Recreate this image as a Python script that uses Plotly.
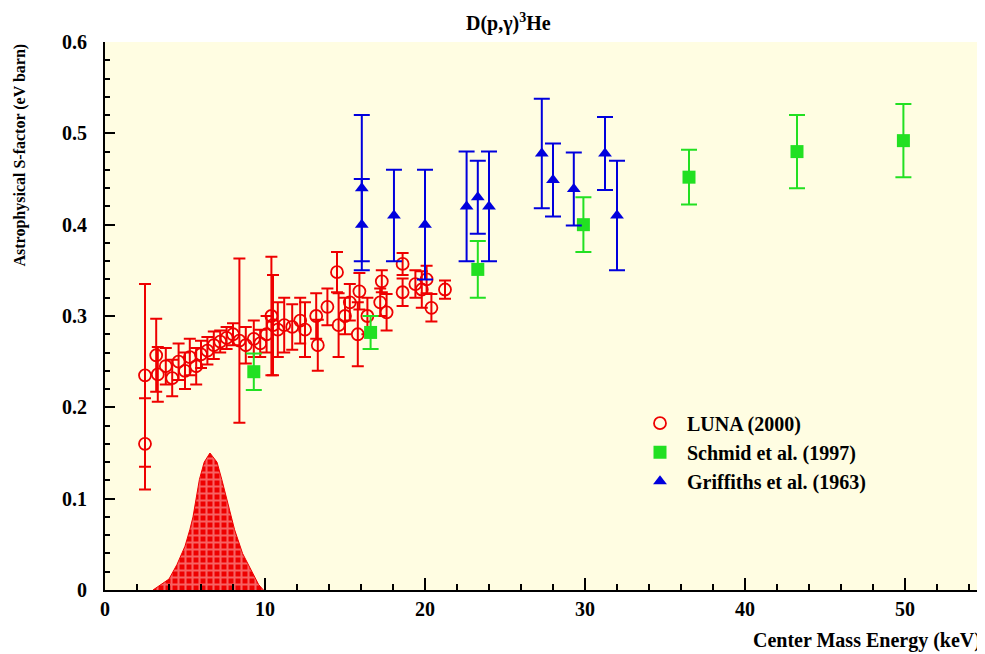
import plotly.graph_objects as go

# LUNA (2000)
luna_x = [2.5, 2.5, 3.2, 3.3, 3.8, 4.2, 4.6, 5.0, 5.3, 5.7, 6.0, 6.4, 6.8, 7.2, 7.6, 8.0,
          8.4, 8.8, 9.3, 9.7, 10.1, 10.4, 10.5, 10.8, 11.2, 11.7, 12.2, 12.5, 13.2, 13.3,
          13.9, 14.5, 14.6, 15.0, 15.3, 15.9, 15.8, 16.4, 17.3, 17.2, 17.6, 18.6, 18.6,
          19.4, 19.8, 20.1, 20.4, 21.25]
luna_y = [0.235, 0.16, 0.257, 0.236, 0.245, 0.232, 0.25, 0.24, 0.255, 0.245, 0.258, 0.262,
          0.268, 0.272, 0.276, 0.28, 0.273, 0.268, 0.275, 0.27, 0.28, 0.30, 0.29, 0.285,
          0.29, 0.288, 0.295, 0.285, 0.30, 0.268, 0.31, 0.348, 0.29, 0.30, 0.315, 0.327,
          0.28, 0.30, 0.338, 0.315, 0.304, 0.357, 0.326, 0.335, 0.329, 0.34, 0.309, 0.329]
luna_err = [0.10, 0.05, 0.04, 0.03, 0.02, 0.02, 0.02, 0.02, 0.02, 0.02, 0.015, 0.015,
            0.015, 0.012, 0.012, 0.012, 0.09, 0.02, 0.02, 0.015, 0.02, 0.065, 0.055, 0.03,
            0.03, 0.025, 0.025, 0.03, 0.025, 0.028, 0.02, 0.022, 0.035, 0.02, 0.02, 0.02,
            0.035, 0.02, 0.012, 0.015, 0.02, 0.012, 0.015, 0.015, 0.02, 0.015, 0.015, 0.01]

# Schmid et al. (1997)
schmid_x = [9.3, 16.6, 23.3, 29.9, 36.5, 43.25, 49.9]
schmid_y = [0.239, 0.282, 0.351, 0.400, 0.452, 0.480, 0.492]
schmid_err = [0.02, 0.018, 0.031, 0.03, 0.03, 0.04, 0.04]

# Griffiths et al. (1963)
griff_x = [16.05, 16.05, 18.06, 20.0, 22.6, 23.3, 24.0, 27.3, 28.0, 29.3, 31.25, 32.0]
griff_y = [0.44, 0.40, 0.41, 0.40, 0.42, 0.43, 0.42, 0.478, 0.449, 0.439, 0.478, 0.41]
griff_err = [0.08, 0.05, 0.05, 0.06, 0.06, 0.04, 0.06, 0.06, 0.04, 0.04, 0.04, 0.06]

# Gamow peak (arbitrary units)
gamow_x = [3.0, 4.0, 4.5, 5.0, 5.3, 5.5, 5.9, 6.2, 6.56, 7.0, 7.3, 7.7, 8.1, 8.6, 9.2, 9.6, 9.9]
gamow_y = [0.0, 0.012, 0.028, 0.048, 0.066, 0.08, 0.121, 0.14, 0.15, 0.14, 0.121, 0.095,
           0.066, 0.04, 0.019, 0.006, 0.0]

FONT = "Liberation Serif"
RED = "#ee0000"
GREEN = "#22e022"
BLUE = "#0000dd"

fig = go.Figure()

fig.add_trace(go.Scatter(
    x=gamow_x, y=gamow_y, mode="lines", fill="tozeroy",
    line=dict(color=RED, width=1), fillcolor=RED,
    fillpattern=dict(shape="+", fgcolor="#ffc4c4", bgcolor=RED, size=7, solidity=0.5),
    showlegend=False, hoverinfo="skip"))

fig.add_trace(go.Scatter(
    x=luna_x, y=luna_y, mode="markers", name="LUNA (2000)",
    marker=dict(symbol="circle-open", size=12, color=RED, line=dict(width=1.8, color=RED)),
    error_y=dict(type="data", array=luna_err, color=RED, thickness=2, width=6)))

fig.add_trace(go.Scatter(
    x=schmid_x, y=schmid_y, mode="markers", name="Schmid et al. (1997)",
    marker=dict(symbol="square", size=13, color=GREEN),
    error_y=dict(type="data", array=schmid_err, color=GREEN, thickness=2, width=8)))

fig.add_trace(go.Scatter(
    x=griff_x, y=griff_y, mode="markers", name="Griffiths et al. (1963)",
    marker=dict(symbol="triangle-up", size=12, color=BLUE),
    error_y=dict(type="data", array=griff_err, color=BLUE, thickness=2, width=8)))

fig.update_layout(
    width=977, height=646,
    margin=dict(l=97, r=0, t=34, b=64),
    paper_bgcolor="white", plot_bgcolor="#fffde2",
    font=dict(family=FONT, size=16, color="black"),
    xaxis=dict(range=[0, 55], dtick=10, ticks="inside", ticklen=12, tickwidth=1.5,
               tickcolor="black", showline=True, linecolor="black", linewidth=2,
               showgrid=False, zeroline=False,
               tickfont=dict(family=FONT, size=20, weight="bold"),
               minor=dict(dtick=2, ticks="inside", ticklen=6, tickcolor="black", showgrid=False)),
    yaxis=dict(range=[0, 0.6], dtick=0.1, ticks="inside", ticklen=10, tickwidth=1.5,
               tickcolor="black", showline=True, linecolor="black", linewidth=2,
               showgrid=False, zeroline=False, tickformat="~g", ticklabelstandoff=12,
               tickfont=dict(family=FONT, size=20, weight="bold"),
               minor=dict(dtick=0.02, ticks="inside", ticklen=5, tickcolor="black", showgrid=False)),
    legend=dict(x=0.600, y=0.34, xanchor="left", yanchor="top",
                bgcolor="rgba(0,0,0,0)", font=dict(family=FONT, size=20, weight="bold"),
                itemwidth=44, tracegroupgap=4),
    showlegend=True,
)

fig.add_annotation(text="D(p,γ)<sup>3</sup>He", xref="paper", yref="paper",
                   x=0.458, y=1.0, yshift=20, yanchor="middle", showarrow=False,
                   font=dict(family=FONT, size=20, weight="bold"))
fig.add_annotation(text="Astrophysical S-factor (eV barn)", xref="paper", yref="paper",
                   x=0, xshift=-86, y=1.0, yanchor="top", xanchor="center", textangle=-90,
                   showarrow=False, font=dict(family=FONT, size=16, weight="bold"))
fig.add_annotation(text="Center Mass Energy (keV)", xref="paper", yref="paper",
                   x=1.0, xshift=-2, y=0, yshift=-50, xanchor="right", yanchor="middle",
                   showarrow=False, font=dict(family=FONT, size=20, weight="bold"))

fig.write_html("out.html")
